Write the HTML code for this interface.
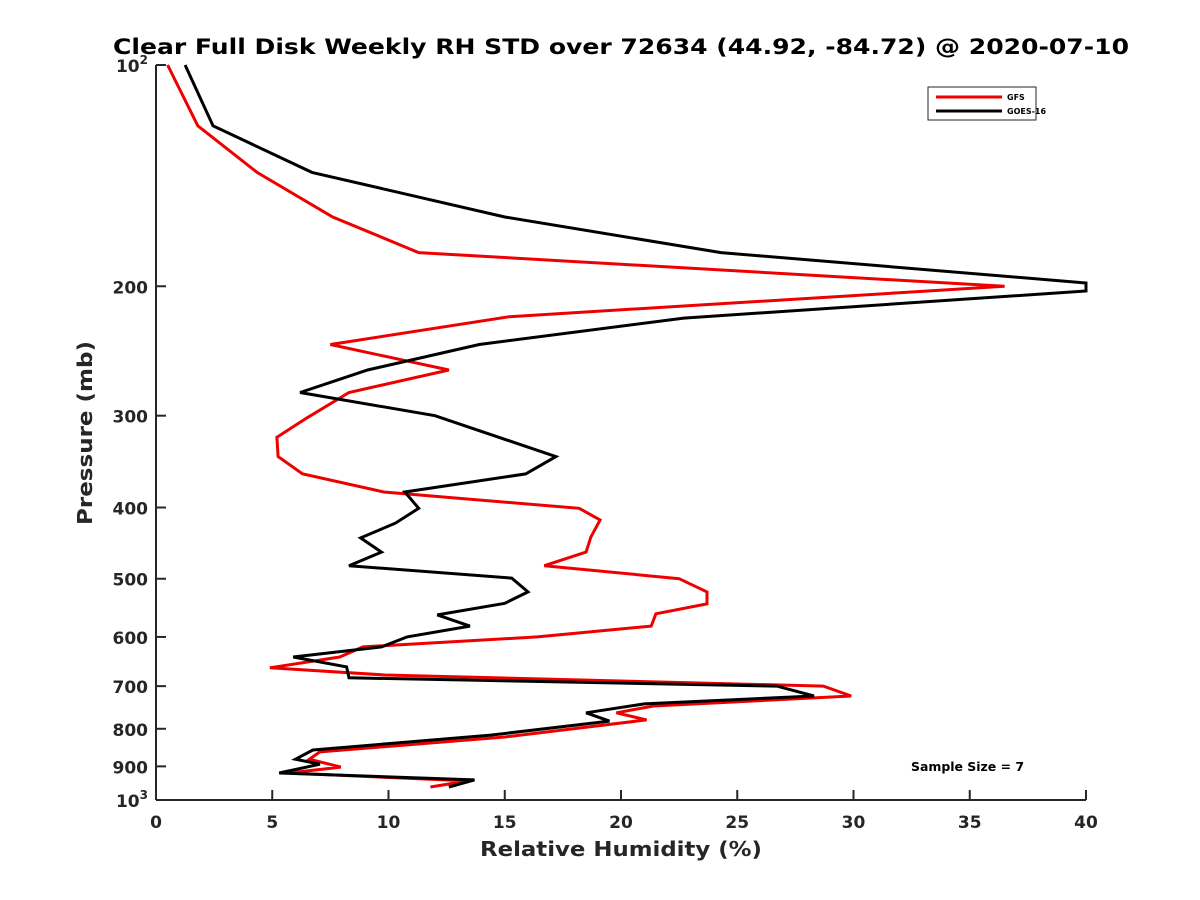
<!DOCTYPE html>
<html><head><meta charset="utf-8"><style>
body{margin:0;background:#fff;}
svg{display:block;font-family:"DejaVu Sans","Liberation Sans",sans-serif;}
</style></head><body>
<svg id="chart" width="1200" height="900" viewBox="0 0 1200 900">
<rect width="1200" height="900" fill="#fff"/>
<text x="621" y="54" text-anchor="middle" font-size="21" font-weight="bold" fill="#000" textLength="1016" lengthAdjust="spacingAndGlyphs">Clear Full Disk Weekly RH STD over 72634 (44.92, -84.72) @ 2020-07-10</text>
<g id="axes"></g>
<g id="series"></g>
<text x="621" y="856" text-anchor="middle" font-size="20" font-weight="bold" fill="#262626" textLength="282" lengthAdjust="spacingAndGlyphs">Relative Humidity (%)</text>
<text transform="translate(92,433) rotate(-90)" text-anchor="middle" font-size="20" font-weight="bold" fill="#262626" textLength="184" lengthAdjust="spacingAndGlyphs">Pressure (mb)</text>
<g>
<rect x="928" y="87" width="108" height="33" fill="#fff" stroke="#262626" stroke-width="1"/>
<line x1="936" y1="97" x2="1002" y2="97" stroke="#e00" stroke-width="3"/>
<text x="1007" y="100" font-size="8" font-weight="bold">GFS</text>
<line x1="936" y1="111" x2="1002" y2="111" stroke="#000" stroke-width="3"/>
<text x="1007" y="114" font-size="8" font-weight="bold">GOES-16</text>
</g>
<text x="911" y="771" font-size="12" font-weight="bold" textLength="113" lengthAdjust="spacingAndGlyphs">Sample Size = 7</text>
</svg>
<script>
const xTicks=[0,5,10,15,20,25,30,35,40];
const yTicks=[100,200,300,400,500,600,700,800,900,1000];
const yTickLabels=["10|2","200","300","400","500","600","700","800","900","10|3"];
const gfsP=[100,121,140,161,180,200,220,240,260,279,302,321,341,360,381,401,416,439,460,480,500,521,541,558,580,600,619,639,661,676,700,722,745,761,778,821,860,880,902,919,942,960];
const gfsRH=[0.5,1.8,4.35,7.6,11.3,36.5,15.2,7.5,12.6,8.3,6.5,5.2,5.25,6.3,9.8,18.2,19.1,18.7,18.5,16.7,22.5,23.7,23.7,21.5,21.3,16.4,8.9,7.9,4.9,9.85,28.7,29.9,21.4,19.8,21.1,15.0,7.05,6.6,7.95,5.7,13.4,11.8];
const goesP=[100,121,140,161,180,198,203,221,240,260,279,300,341,360,381,401,420,440,460,480,499,521,540,560,580,600,619,639,659,682,700,722,740,761,781,816,855,880,894,919,939,960];
const goesRH=[1.25,2.45,6.71,15.0,24.3,40,40,22.7,13.9,9.1,6.2,12.0,17.2,15.9,10.7,11.3,10.3,8.8,9.7,8.3,15.3,16.0,15.0,12.1,13.5,10.8,9.7,5.9,8.2,8.3,26.7,28.3,21.0,18.5,19.5,14.4,6.75,6.0,7.05,5.3,13.7,12.6];
const L=156,R=1086,T=65,B=800;
const xs=v=>L+(v-0)/40*(R-L);
const ys=p=>T+(Math.log10(p)-2)*(B-T);
const NS="http://www.w3.org/2000/svg";
function mk(tag,attrs,parent){const e=document.createElementNS(NS,tag);for(const k in attrs)e.setAttribute(k,attrs[k]);parent.appendChild(e);return e;}
const ax=document.getElementById('axes');
const ya=mk('line',{x1:L,y1:T,x2:L,y2:B,stroke:'#262626','stroke-width':2},ax);


const xa=mk('line',{x1:L,y1:B,x2:R,y2:B,stroke:'#262626','stroke-width':2},ax);


xTicks.forEach(v=>{
 const x=xs(v);
 mk('line',{x1:x,y1:B,x2:x,y2:B-10,stroke:'#262626','stroke-width':2},ax);
 const t=mk('text',{x:x,y:B+28,'text-anchor':'middle','font-size':17,'font-weight':'bold',fill:'#262626'},ax);
 t.textContent=v;
 
 
});
yTicks.forEach((p,i)=>{
 const y=ys(p);
 mk('line',{x1:L,y1:y,x2:L+10,y2:y,stroke:'#262626','stroke-width':2},ax);
 const lab=yTickLabels[i];
 const t=mk('text',{x:L-8,y:y+7,'text-anchor':'end','font-size':17,'font-weight':'bold',fill:'#262626'},ax);
 if(lab.indexOf('|')>=0){
   const parts=lab.split('|');
   const a=mk('tspan',{},t);a.textContent=parts[0];
   const b=mk('tspan',{dy:-8,'font-size':12},t);b.textContent=parts[1];
 } else t.textContent=lab;
 
 
});
const sg=document.getElementById('series');
function line(P,V,color,name){
 const pts=P.map((p,i)=>xs(V[i]).toFixed(1)+','+ys(p).toFixed(1)).join(' ');
 const e=mk('polyline',{points:pts,fill:'none',stroke:color,'stroke-width':3,'stroke-linejoin':'miter'},sg);
 
 
}
line(gfsP,gfsRH,'#e00','gfs-line');
line(goesP,goesRH,'#000','goes16-line');
</script>
</body></html>
